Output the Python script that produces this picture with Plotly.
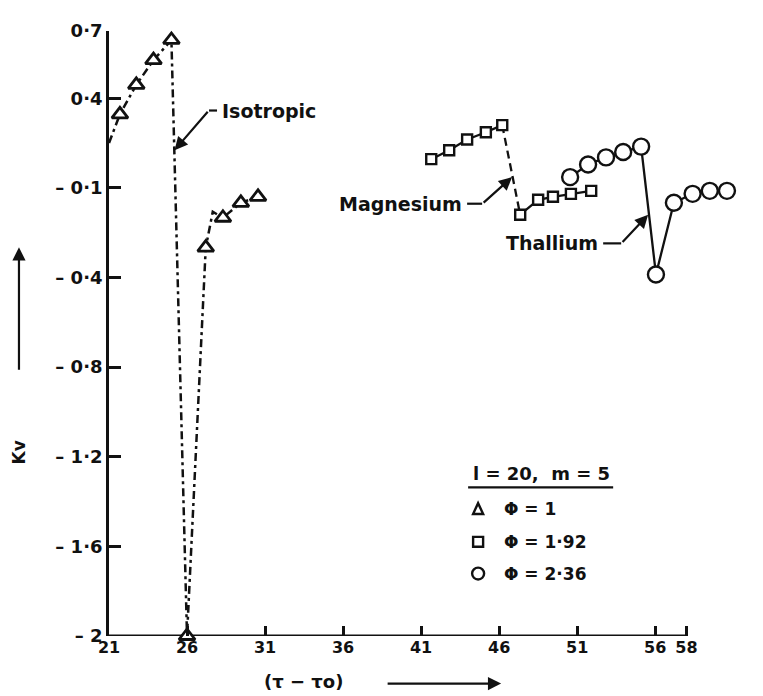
import numpy as np
import plotly.graph_objects as go

# ---------------- data ----------------
x_tick_vals = [21, 26, 31, 36, 41, 46, 51, 56, 58]

# the printed Kv scale is not linear; each labelled tick sits at an even spacing
y_tick_vals = [-2.0, -1.6, -1.2, -0.8, -0.4, -0.1, 0.4, 0.7]
y_tick_text = ["– 2", "– 1·6", "– 1·2", "– 0·8", "– 0·4", "– 0·1", "0·4", "0·7"]
y_tick_pos = [0, 1, 2, 3, 4, 5, 6, 6.75]

# Isotropic, phi = 1 (triangles)
iso_x = [21.0, 21.7, 22.75, 23.85, 25.0, 26.0, 27.2, 27.65, 28.3, 29.45, 30.55]
iso_kv = [0.15, 0.31, 0.46, 0.57, 0.66, -2.0, -0.30, -0.18, -0.20, -0.15, -0.13]
iso_computed = [False, True, True, True, True, True, True, False, True, True, True]

# Magnesium, phi = 1.92 (squares)
mg_x = [41.65, 42.8, 43.95, 45.15, 46.2, 47.35, 48.5, 49.45, 50.6, 51.9]
mg_kv = [0.06, 0.11, 0.17, 0.21, 0.25, -0.19, -0.14, -0.13, -0.12, -0.11]
mg_drop = 4  # index of the point before the dashed drop

# Thallium, phi = 2.36 (circles)
tl_x = [50.55, 51.7, 52.85, 53.95, 55.1, 56.05, 57.2, 58.4, 59.5, 60.6]
tl_kv = [-0.04, 0.03, 0.07, 0.10, 0.13, -0.39, -0.15, -0.12, -0.11, -0.11]

legend_params = ["Φ = 1", "Φ = 1·92", "Φ = 2·36"]


def to_pos(v):
    return np.interp(v, y_tick_vals, y_tick_pos)


# ---------------- layout constants ----------------
W, H = 763, 696
X_MAX = 61.5
L, B = 101, 628
PX_PER_X = 15.6
PX_PER_SLOT = 90.4
R = L + (X_MAX - x_tick_vals[0]) * PX_PER_X
T = B - y_tick_pos[-1] * PX_PER_SLOT
FONT = "DejaVu Sans"
BLACK = "#111111"


def px(x):
    return (x - L) / (R - L)


def py(y):
    return (B - y) / (B - T)


fig = go.Figure()

# Isotropic: dash-dot curve, triangles at computed points
iso_pos = to_pos(iso_kv)
fig.add_trace(go.Scatter(
    x=iso_x, y=iso_pos, mode="lines",
    line=dict(color=BLACK, width=2.5, dash="8px,4px,3px,4px"),
    showlegend=False, hoverinfo="skip"))
fig.add_trace(go.Scatter(
    x=[x for x, c in zip(iso_x, iso_computed) if c],
    y=[y for y, c in zip(iso_pos, iso_computed) if c],
    mode="markers",
    marker=dict(symbol="triangle-up", size=14, color="white",
                line=dict(color=BLACK, width=2.8)),
    cliponaxis=False, showlegend=False))

# Magnesium: solid, dashed drop, solid
mg_pos = to_pos(mg_kv)
segs = [(0, mg_drop + 1, "solid"), (mg_drop, mg_drop + 2, "8px,5px"),
        (mg_drop + 1, len(mg_x), "solid")]
for a, b, d in segs:
    fig.add_trace(go.Scatter(
        x=mg_x[a:b], y=mg_pos[a:b], mode="lines",
        line=dict(color=BLACK, width=2.3, dash=d),
        showlegend=False, hoverinfo="skip"))
fig.add_trace(go.Scatter(
    x=mg_x, y=mg_pos, mode="markers",
    marker=dict(symbol="square", size=10, color="white",
                line=dict(color=BLACK, width=2.4)),
    cliponaxis=False, showlegend=False))

# Thallium
fig.add_trace(go.Scatter(
    x=tl_x, y=to_pos(tl_kv), mode="lines+markers",
    line=dict(color=BLACK, width=2.3),
    marker=dict(symbol="circle", size=16, color="white",
                line=dict(color=BLACK, width=2.4)),
    cliponaxis=False, showlegend=False))

# x axis line (ends at 58 while the plot area continues)
fig.add_shape(type="line", xref="x", yref="y",
              x0=x_tick_vals[0], x1=x_tick_vals[-1], y0=0, y1=0,
              line=dict(color=BLACK, width=2.8), layer="below")

fig.update_layout(
    width=W, height=H,
    margin=dict(l=L, r=W - R, t=T, b=H - B),
    paper_bgcolor="white", plot_bgcolor="white",
    font=dict(family=FONT, color=BLACK, size=15, weight="bold"),
    xaxis=dict(range=[x_tick_vals[0], X_MAX], tickvals=x_tick_vals,
               ticktext=[str(v) for v in x_tick_vals],
               showline=False, showgrid=False, zeroline=False,
               ticks="inside", ticklen=10, tickwidth=2.5, tickcolor=BLACK,
               tickfont=dict(size=16, family=FONT, weight="bold")),
    yaxis=dict(range=[0, y_tick_pos[-1]], tickvals=y_tick_pos, ticktext=y_tick_text,
               showline=True, linewidth=2.8, linecolor=BLACK,
               showgrid=False, zeroline=False,
               ticks="inside", ticklen=12, tickwidth=2.5, tickcolor=BLACK,
               tickfont=dict(size=18, family=FONT, weight="bold")),
)

# series labels with bent arrows
labels = [
    # text, head x, head Kv, bend pixel (x,y), text anchor pixel (x,y), xanchor
    ("Isotropic", 25.2, 0.11, (201, 98), (212, 98), "left"),
    ("Magnesium", 46.83, -0.04, (474, 192), (456, 192), "right"),
    ("Thallium", 55.55, -0.19, (613, 232), (592, 232), "right"),
]
for text, hx, hk, (bx, by), (tx, ty), xa in labels:
    hpx = L + (hx - x_tick_vals[0]) * PX_PER_X
    hpy = B - float(to_pos(hk)) * PX_PER_SLOT
    fig.add_annotation(x=hx, y=float(to_pos(hk)), xref="x", yref="y", text="",
                       showarrow=True, ax=bx - hpx, ay=by - hpy,
                       arrowhead=2, arrowsize=1.2, arrowwidth=2.2, arrowcolor=BLACK)
    lx0 = tx + (3 if xa == "right" else -3)
    fig.add_shape(type="line", xref="paper", yref="paper",
                  x0=px(lx0), x1=px(bx), y0=py(by), y1=py(by),
                  line=dict(color=BLACK, width=2.2))
    fig.add_annotation(x=px(tx), y=py(ty), xref="paper", yref="paper",
                       text=text, showarrow=False, xanchor=xa, yanchor="middle",
                       font=dict(size=19, family=FONT, weight="bold"))

# legend block
fig.add_annotation(x=px(533), y=py(464), xref="paper", yref="paper",
                   text="l = 20,  m = 5", showarrow=False,
                   xanchor="center", yanchor="middle",
                   font=dict(size=18, family=FONT, weight="bold"))
fig.add_shape(type="line", xref="paper", yref="paper",
              x0=px(460), x1=px(605), y0=py(478), y1=py(478),
              line=dict(color=BLACK, width=2.2))
sym_x = 470
rows = [500, 533, 565]
sym_line = dict(color=BLACK, width=2.4)
# triangle
ty0 = rows[0]
fig.add_shape(type="path", xref="paper", yref="paper",
              path="M {:.4f},{:.4f} L {:.4f},{:.4f} L {:.4f},{:.4f} Z".format(
                  px(sym_x - 5), py(ty0 + 5), px(sym_x + 5), py(ty0 + 5),
                  px(sym_x), py(ty0 - 6)),
              line=sym_line, fillcolor="white")
# square
fig.add_shape(type="rect", xref="paper", yref="paper",
              x0=px(sym_x - 5), x1=px(sym_x + 5), y0=py(rows[1] - 5), y1=py(rows[1] + 5),
              line=sym_line, fillcolor="white")
# circle
fig.add_shape(type="circle", xref="paper", yref="paper",
              x0=px(sym_x - 6), x1=px(sym_x + 6), y0=py(rows[2] - 6), y1=py(rows[2] + 6),
              line=sym_line, fillcolor="white")
for txt, yy in zip(legend_params, rows):
    fig.add_annotation(x=px(494), y=py(yy), xref="paper", yref="paper",
                       text=txt, showarrow=False, xanchor="left", yanchor="middle",
                       font=dict(size=17, family=FONT, weight="bold"))

# axis titles
fig.add_annotation(x=px(295), y=py(674), xref="paper", yref="paper",
                   text="(τ − τo)", showarrow=False,
                   xanchor="center", yanchor="middle",
                   font=dict(size=18, family=FONT, weight="bold"))
fig.add_annotation(x=px(493), y=py(676), xref="paper", yref="paper",
                   text="", showarrow=True, ax=-115, ay=0,
                   arrowhead=2, arrowsize=1.2, arrowwidth=2.2, arrowcolor=BLACK)
fig.add_annotation(x=px(11), y=py(443), xref="paper", yref="paper",
                   text="Kv", textangle=-90, showarrow=False,
                   xanchor="center", yanchor="middle",
                   font=dict(size=17, family=FONT, weight="bold"))
fig.add_annotation(x=px(11), y=py(236), xref="paper", yref="paper",
                   text="", showarrow=True, ax=0, ay=124,
                   arrowhead=2, arrowsize=1.2, arrowwidth=2.2, arrowcolor=BLACK)

fig.write_html("out.html")
